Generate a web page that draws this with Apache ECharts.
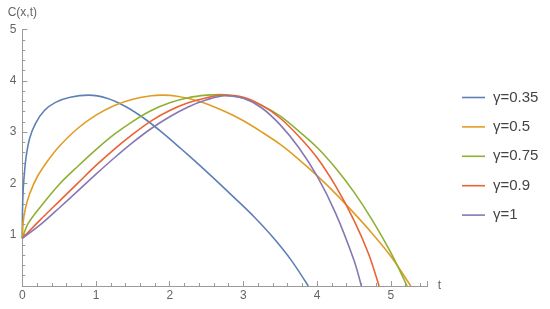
<!DOCTYPE html>
<html>
<head>
<meta charset="utf-8">
<script src="https://cdn.jsdelivr.net/npm/echarts@6/dist/echarts.min.js"></script>
<style>
html,body{margin:0;padding:0;background:#fff;}
#chart{width:550px;height:309px;}
</style>
</head>
<body>
<div id="chart"></div>
<script>
// Series names (legend)
const seriesNames = ['γ=0.35', 'γ=0.5', 'γ=0.75', 'γ=0.9', 'γ=1'];
const seriesColors = ['#5E81B5', '#E19C24', '#8FB032', '#EB6235', '#8778B3'];

// gamma = 0.35
const t035 = [0, 0.002, 0.008, 0.02, 0.05, 0.1, 0.18, 0.3, 0.45, 0.65, 0.9, 1.15, 1.4, 1.65, 1.9, 2.15, 2.4, 2.65, 2.9, 3.15, 3.4, 3.65, 3.88];
const c035 = [0.93, 1.4, 1.75, 2.05, 2.5, 2.88, 3.17, 3.42, 3.58, 3.68, 3.72, 3.66, 3.5, 3.27, 2.99, 2.68, 2.36, 2.03, 1.69, 1.34, 0.95, 0.5, 0];
// gamma = 0.5
const t05 = [0, 0.01, 0.04, 0.1, 0.2, 0.35, 0.5, 0.75, 1.0, 1.25, 1.5, 1.75, 1.9, 2.1, 2.4, 2.75, 3.0, 3.25, 3.5, 3.75, 4.0, 4.25, 4.5, 4.75, 5.0, 5.27];
const c05 = [0.93, 1.22, 1.5, 1.8, 2.12, 2.45, 2.72, 3.07, 3.33, 3.52, 3.64, 3.71, 3.72, 3.7, 3.6, 3.4, 3.22, 3.0, 2.76, 2.47, 2.15, 1.8, 1.42, 1.02, 0.58, 0];
// gamma = 0.75
const t075 = [0, 0.08, 0.25, 0.5, 0.75, 1.0, 1.25, 1.5, 1.75, 2.0, 2.25, 2.5, 2.7, 3.0, 3.25, 3.5, 3.75, 4.0, 4.25, 4.5, 4.75, 5.0, 5.22];
const c075 = [0.93, 1.22, 1.55, 1.98, 2.33, 2.66, 2.96, 3.21, 3.42, 3.57, 3.67, 3.72, 3.73, 3.66, 3.52, 3.31, 3.02, 2.7, 2.3, 1.83, 1.28, 0.65, 0];
// gamma = 0.9
const t09 = [0, 0.25, 0.5, 0.75, 1.0, 1.25, 1.5, 1.75, 2.0, 2.25, 2.5, 2.72, 3.0, 3.25, 3.5, 3.75, 4.0, 4.25, 4.5, 4.7, 4.84];
const c09 = [0.93, 1.3, 1.65, 2.0, 2.35, 2.67, 2.96, 3.22, 3.42, 3.57, 3.67, 3.72, 3.68, 3.52, 3.27, 2.92, 2.5, 1.95, 1.28, 0.62, 0];
// gamma = 1
const t1 = [0, 0.25, 0.5, 0.75, 1.0, 1.25, 1.5, 1.75, 2.0, 2.25, 2.5, 2.75, 3.0, 3.25, 3.5, 3.75, 4.0, 4.25, 4.5, 4.6];
const c1 = [0.93, 1.2, 1.52, 1.85, 2.18, 2.5, 2.8, 3.07, 3.3, 3.49, 3.63, 3.71, 3.66, 3.47, 3.14, 2.7, 2.14, 1.42, 0.5, 0];

const tLists = [t035, t05, t075, t09, t1];
const cLists = [c035, c05, c075, c09, c1];

const axisColor = '#9a9a9a';
const labelColor = '#666';
const fontFamily = '"Liberation Sans", Arial, sans-serif';

const chart = echarts.init(document.getElementById('chart'), null, {renderer: 'canvas'});
chart.setOption({
  animation: false,
  backgroundColor: '#fff',
  grid: {left: 22.3, top: 29.5, width: 405.4, height: 256.5, containLabel: false},
  legend: {
    orient: 'vertical',
    left: 462,
    top: 90,
    padding: 0,
    itemWidth: 23,
    itemHeight: 14,
    itemGap: 14.4,
    icon: 'path://M0,0 L23,0 L23,1.6 L0,1.6 Z',
    data: seriesNames,
    textStyle: {fontSize: 15, color: '#444', fontFamily: fontFamily, lineHeight: 14, padding: [0, 0, 0, 3]}
  },
  xAxis: {
    type: 'value',
    min: 0, max: 5.5, interval: 1,
    name: 't',
    nameLocation: 'end',
    nameGap: 10,
    nameTextStyle: {color: labelColor, fontSize: 12, fontFamily: fontFamily, verticalAlign: 'middle'},
    axisLine: {show: true, lineStyle: {color: axisColor, width: 1}},
    axisTick: {show: true, inside: true, length: 5, lineStyle: {color: axisColor}},
    minorTick: {show: true, splitNumber: 5, length: 3, lineStyle: {color: axisColor}},
    axisLabel: {color: labelColor, fontSize: 12, fontFamily: fontFamily, margin: 4,
      formatter: v => (Math.abs(v - Math.round(v)) < 1e-9 ? String(Math.round(v)) : '')},
    splitLine: {show: false}
  },
  yAxis: {
    type: 'value',
    min: 0, max: 5, interval: 1,
    name: 'C(x,t)',
    nameLocation: 'end',
    nameGap: 11,
    nameTextStyle: {color: labelColor, fontSize: 12, fontFamily: fontFamily, align: 'center'},
    axisLine: {show: true, lineStyle: {color: axisColor, width: 1}},
    axisTick: {show: true, inside: true, length: 5, lineStyle: {color: axisColor}},
    minorTick: {show: true, splitNumber: 5, length: 3, lineStyle: {color: axisColor}},
    axisLabel: {color: labelColor, fontSize: 12, fontFamily: fontFamily, margin: 6,
      formatter: v => (v === 0 ? '' : String(v))},
    splitLine: {show: false}
  },
  series: seriesNames.map((name, i) => ({
    name: name,
    type: 'line',
    data: tLists[i].map((t, j) => [t, cLists[i][j]]),
    smooth: 0.3,
    symbol: 'none',
    showSymbol: false,
    color: seriesColors[i],
    lineStyle: {color: seriesColors[i], width: 1.6},
    clip: true
  }))
});
</script>
</body>
</html>
